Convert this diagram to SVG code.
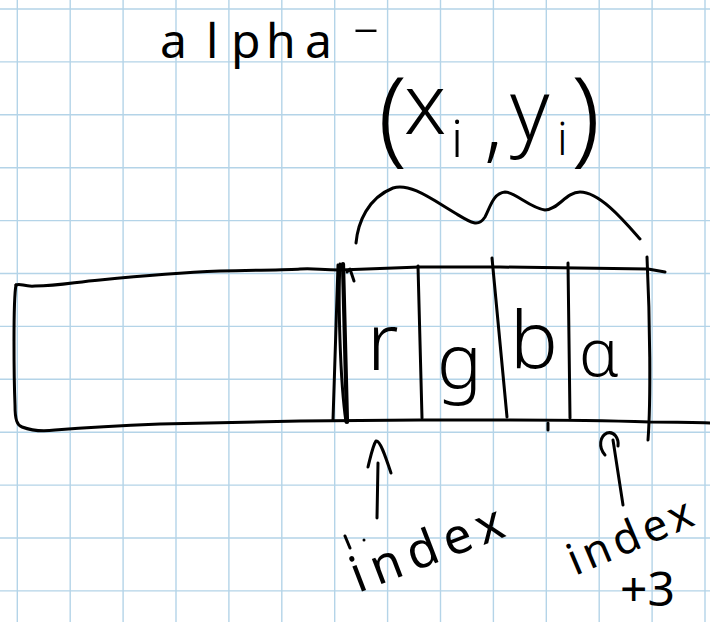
<svg xmlns="http://www.w3.org/2000/svg" width="710" height="622" viewBox="0 0 710 622">
<style>
.grid{stroke:#b4d4e8;stroke-width:1.4;fill:none}
.ink{stroke:#000;stroke-width:3;fill:none;stroke-linecap:round;stroke-linejoin:round}
.thick{stroke-width:4.2}
.hw{font-family:"Noto Sans","Open Sans","DejaVu Sans",sans-serif;font-weight:300;fill:#000}
.hw4{font-family:"Noto Sans","Open Sans","DejaVu Sans",sans-serif;font-weight:400;fill:#000}
</style>
<rect width="710" height="622" fill="#fff"/>
<g id="grid">
<path class="grid" d="M17.3,0V622M70.2,0V622M123.1,0V622M176,0V622M228.9,0V622M281.8,0V622M334.7,0V622M387.6,0V622M440.5,0V622M493.4,0V622M546.3,0V622M599.2,0V622M652.1,0V622M705,0V622"/>
<path class="grid" d="M0,9H710M0,61.9H710M0,114.8H710M0,167.7H710M0,220.6H710M0,273.5H710M0,326.4H710M0,379.3H710M0,432.2H710M0,485.1H710M0,538H710M0,590.9H710"/>
</g>
<g id="title">
<text class="hw4" font-size="48" y="58"><tspan x="160">a</tspan><tspan x="206">l</tspan><tspan x="231">p</tspan><tspan x="266">h</tspan><tspan x="305">a</tspan><tspan x="352" y="39" font-size="30" textLength="28" lengthAdjust="spacingAndGlyphs">-</tspan></text>
</g>
<g id="coord-label">
<text class="hw"><tspan x="378" y="152" font-size="105">(</tspan><tspan x="404" y="134" font-size="84">x</tspan><tspan x="451" y="157" font-size="52">i</tspan><tspan x="484" y="152" font-size="84">,</tspan><tspan x="510" y="140" font-size="84">y</tspan><tspan x="557" y="155" font-size="46">i</tspan><tspan x="571" y="152" font-size="105">)</tspan></text>
</g>
<g id="brace">
<path class="ink" d="M356,243C358,222 368,198 393,188C410,183 430,198 455,213C470,222 478,228 485,217C490,208 493,193 505,192C515,192 530,208 545,210C558,210 566,192 580,192C600,192 625,222 640,239"/>
</g>
<g id="array">
<path class="ink" d="M16,285C21,283 24,287 35,286C60,286 75,282 100,280C140,276 170,273 220,271C260,270 290,270 300,269C315,268 320,270 340,270L420,267C460,267 490,267 500,267C560,268 620,269 648,269L665,272"/>
<path class="ink" d="M16,285C13,300 14,380 15,405C15,420 17,425 22,427C30,430 40,432 55,430C80,428 110,426 160,424C220,423 270,422 300,421L420,420C470,420 500,420 510,420C560,420 620,421 650,422C670,422 690,422 710,423"/>
</g>
<g id="cell-r">
<path class="ink" d="M333,420L338,265"/>
<path class="ink" d="M340,264C338,300 340,380 346,422"/>
<path class="ink thick" d="M343,264L347,422"/>
<path class="ink" stroke-width="2.5" d="M347,272L350,269L354,281"/>
<path class="ink" d="M418,266L422,418"/>
<text class="hw" font-size="80" x="367" y="370">r</text>
</g>
<g id="cell-g">
<path class="ink" d="M492,258L507,417"/>
<text class="hw" font-size="75" x="437" y="388">g</text>
</g>
<g id="cell-b">
<path class="ink" d="M568,263L570,418"/>
<path class="ink" d="M548,423L548,430"/>
<text class="hw" font-size="80" x="510" y="368">b</text>
</g>
<g id="cell-alpha">
<path class="ink" d="M647,257C650,320 651,400 648,440"/>
<text class="hw" font-size="66" x="579" y="376">α</text>
</g>
<g id="connectors">
<path class="ink" d="M377,518L378,463"/>
<path class="ink" d="M368,467C371,455 373,445 376,441C380,440 385,455 391,473"/>
<path class="ink" d="M613,440L623,505"/>
<path class="ink" d="M605,455C598,447 600,436 607,433C614,431 619,438 618,446"/>
</g>
<g id="label-index">
<path class="ink" stroke-width="2.5" d="M345,536L350,548"/>
<circle cx="364" cy="540" r="1.5" fill="#000"/>
<text class="hw4" font-size="50" x="358" y="593" textLength="160" lengthAdjust="spacing" transform="rotate(-21 358 593)">index</text>
</g>
<g id="label-index3">
<text class="hw4" font-size="44" x="575" y="576" textLength="132" lengthAdjust="spacing" transform="rotate(-23 575 576)">index</text>
<text class="hw4" font-size="48" x="620" y="606">+3</text>
</g>
</svg>
